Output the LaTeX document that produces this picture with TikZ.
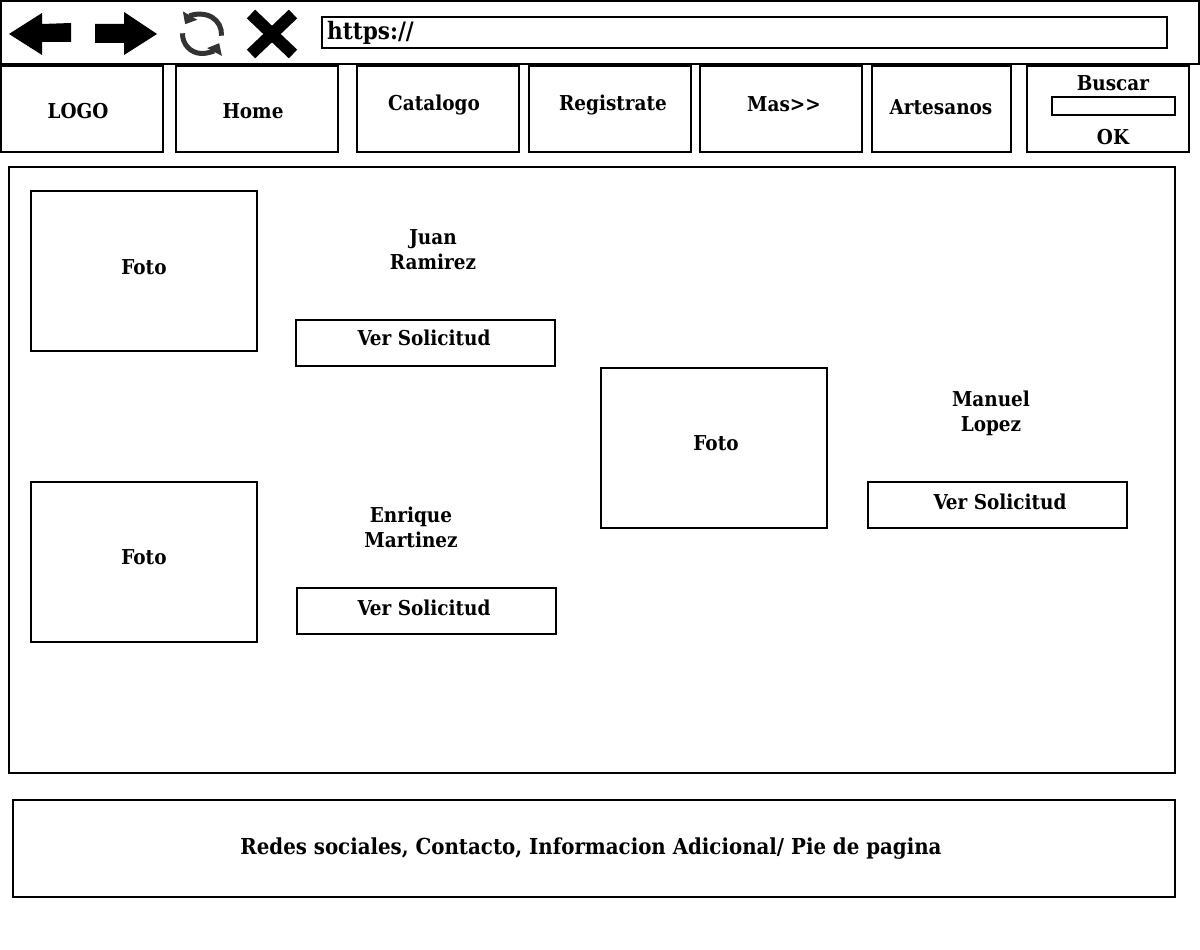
\documentclass[tikz,border=0pt]{standalone}
\usepackage{fontspec}
\setmainfont{DejaVu Serif Condensed}
\usetikzlibrary{arrows.meta}
\tikzset{
  box/.style={draw, line width=2pt, inner sep=0pt},
  navbox/.style={box, minimum width=162pt, minimum height=86pt},
  fotobox/.style={box, minimum width=226pt, minimum height=160pt},
  verbox/.style={box, minimum width=259pt, minimum height=46pt},
  lbl/.style={font=\bfseries\fontsize{20.5}{25}\selectfont, align=center, inner sep=0pt}
}
\begin{document}
\begin{tikzpicture}[x=1pt, y=-1pt]
  \useasboundingbox (0,0) rectangle (1200,950);
  % browser bar
  \node[box, minimum width=1198pt, minimum height=63pt] (bar) at (600,32.5) {};
  \node[box, minimum width=845pt, minimum height=31pt] (url) at (744.5,32.5) {};
  \node[lbl, font=\bfseries\fontsize{24}{28}\selectfont, anchor=west] (urltext) at ([xshift=6pt]url.west) {https://};
  \fill (9,34) -- (42,13) -- (42,24) -- (71,23) -- (71,42) -- (42,42) -- (42,55) -- cycle;
  \fill (95,24) -- (124,24) -- (124,12) -- (157,34) -- (124,55) -- (124,43) -- (95,43) -- cycle;
  \coordinate (rc) at (202,34);
  \draw[line width=5pt, black!80, {Triangle[length=10pt, width=16pt]}-] (rc) ++(-150:19.5) arc[start angle=-150, end angle=5, radius=19.5];
  \draw[line width=5pt, black!80, -{Triangle[length=10pt, width=16pt]}] (rc) ++(-178:19.5) arc[start angle=-178, end angle=-332, radius=19.5];
  \draw[line width=12pt] (251,14) -- (293,54) (293,14) -- (251,54);
  % menu
  \node[navbox] (logo) at (82,109) {};
  \node[navbox] (home) at (257,109) {};
  \node[navbox] (catalogo) at (438,109) {};
  \node[navbox] (registrate) at (610,109) {};
  \node[navbox, line width=2.5pt] (mas) at (781,109) {};
  \node[navbox, minimum width=139pt] (artesanos) at (941.5,109) {};
  \node[navbox] (buscar) at (1108,109) {};
  \node[lbl] at (78,111) {LOGO};
  \node[lbl] at (253,111) {Home};
  \node[lbl] at (434,105) {Catalogo};
  \node[lbl] at (613,105) {Registrate};
  \node[lbl] at (784,104) {Mas>{}>};
  \node[lbl] at (941,107) {Artesanos};
  \node[lbl] at (1113,83) {Buscar};
  \node[box, line width=1.5pt, minimum width=123pt, minimum height=18pt] (campo) at (1113.5,106) {};
  \node[lbl] at (1113,137) {OK};
  % content
  \node[box, minimum width=1166pt, minimum height=606pt] (main) at (592,470) {};
  \node[fotobox] (foto1) at (144,271) {};
  \node[lbl] at (144,267) {Foto};
  \node[lbl] (juan) at (433,250) {Juan\\Ramirez};
  \node[verbox] (ver1) at (425.5,343) {};
  \node[lbl] at (424,338) {Ver Solicitud};
  \node[fotobox] (foto2) at (144,562) {};
  \node[lbl] at (144,557) {Foto};
  \node[lbl] (enrique) at (411,527) {Enrique\\Martinez};
  \node[verbox] (ver2) at (426.5,611) {};
  \node[lbl] at (424,608) {Ver Solicitud};
  \node[fotobox] (foto3) at (714,448) {};
  \node[lbl] at (716,443) {Foto};
  \node[lbl] (manuel) at (991,413) {Manuel\\Lopez};
  \node[verbox] (ver3) at (997.5,505) {};
  \node[lbl] at (1000,502) {Ver Solicitud};
  % footer
  \node[box, minimum width=1162pt, minimum height=97pt] (pie) at (594,848.5) {};
  \node[lbl, font=\bfseries\fontsize{22}{26}\selectfont] at (591,849) {Redes sociales, Contacto, Informacion Adicional/ Pie de pagina};
\end{tikzpicture}
\end{document}
